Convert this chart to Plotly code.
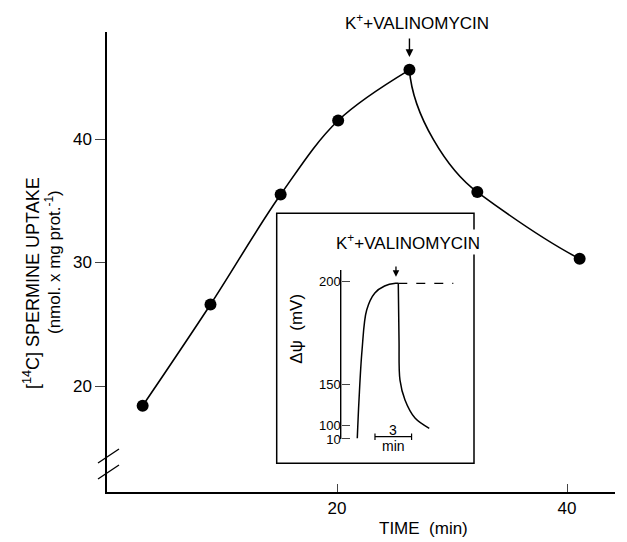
import plotly.graph_objects as go

# ---- main data: [14C] spermine uptake vs time ----
time_min = [3.1, 9.0, 15.1, 20.1, 26.3, 32.2, 41.1]
uptake = [18.4, 26.6, 35.5, 41.5, 45.6, 35.7, 30.3]
x_ticks = [20, 40]
y_ticks = [20, 30, 40]

# ---- inset data: membrane potential trace ----
inset_t = [1.36, 1.5, 1.75, 2.13, 2.8, 3.6, 4.5, 4.72]
inset_mv = [123.6, 142.3, 166.7, 186.2, 194.5, 197.9, 199.2, 199.2]
inset_drop_t = [4.72, 4.78, 4.86, 5.27, 6.09, 7.26]
inset_drop_mv = [199.2, 171.6, 152.0, 142.3, 133.5, 128.5]
inset_dash_t = [4.72, 9.23]
inset_dash_mv = [199.2, 199.2]
inset_tick_pos = [123.3, 130.0, 150, 200]
inset_tick_labels = ["10", "100", "150", "200"]
scale_bar_min = 3

# the page body has an 8px margin: lay the figure out in page pixels minus that offset
OFF = 8
W, H = 627 - OFF, 542 - OFF
PLOT_L, PLOT_R, PLOT_T, PLOT_B = 107, 615, 32, 492   # plot area in page pixels
L, T = PLOT_L - OFF, PLOT_T - OFF
R, B = W - (PLOT_R - OFF), H - (PLOT_B - OFF)
PW, PH = W - L - R, H - T - B
X_PX_PER_UNIT = 11.5
Y_PX_PER_UNIT = 12.35


def px(xp):
    return (xp - PLOT_L) / PW


def py(yp):
    return (PLOT_B - yp) / PH


def yval(yp):
    return 40 + (139 - yp) / Y_PX_PER_UNIT


FONT = "Liberation Sans"
fig = go.Figure()

# rising part of the main curve
fig.add_trace(go.Scatter(x=time_min[:5], y=uptake[:5], mode="lines",
                         line=dict(color="black", width=1.6, shape="spline"),
                         hoverinfo="skip", showlegend=False))
fig.add_trace(go.Scatter(x=time_min, y=uptake, mode="markers",
                         marker=dict(color="black", size=12),
                         showlegend=False))

# inset traces
fig.add_trace(go.Scatter(x=inset_t, y=inset_mv, mode="lines", xaxis="x2", yaxis="y2",
                         line=dict(color="black", width=1.5, shape="spline"),
                         showlegend=False))
fig.add_trace(go.Scatter(x=inset_drop_t, y=inset_drop_mv, mode="lines", xaxis="x2", yaxis="y2",
                         line=dict(color="black", width=1.5, shape="spline"),
                         showlegend=False))
fig.add_trace(go.Scatter(x=inset_dash_t, y=inset_dash_mv, mode="lines", xaxis="x2", yaxis="y2",
                         line=dict(color="black", width=1.3, dash="dash"),
                         showlegend=False))

box_l, box_r, box_t, box_b = 276.7, 474.0, 213.3, 463.3
inset_axis_x = 340.7

fig.update_layout(
    width=W, height=H,
    margin=dict(l=L, r=R, t=T, b=B),
    paper_bgcolor="white", plot_bgcolor="white",
    font=dict(family=FONT, color="black", size=15),
    xaxis=dict(range=[0, PW / X_PX_PER_UNIT], tickvals=x_ticks, ticks="inside", ticklen=8,
               tickwidth=1.3, showline=True, linecolor="black", linewidth=1.5,
               showgrid=False, zeroline=False, tickfont=dict(size=17)),
    yaxis=dict(range=[yval(PLOT_B), yval(PLOT_T)],
               tickvals=y_ticks, ticks="outside", ticklen=10, tickwidth=1.3,
               showline=True, linecolor="black", linewidth=1.5,
               showgrid=False, zeroline=False, tickfont=dict(size=17)),
    xaxis2=dict(domain=[px(box_l), px(box_r)], anchor="y2",
                range=[(box_l - inset_axis_x) / 12.2, (box_r - inset_axis_x) / 12.2],
                visible=False),
    yaxis2=dict(domain=[py(box_b), py(box_t)], anchor="free", position=px(inset_axis_x),
                range=[200 - (box_b - 281.7) / 2.05, 200 + (281.7 - box_t) / 2.05],
                tickvals=inset_tick_pos, ticktext=inset_tick_labels,
                ticks="inside", ticklen=8, tickwidth=1.2, showline=False,
                showgrid=False, zeroline=False, tickfont=dict(size=13)),
)

shapes = []
# falling part of main curve: cubic bezier through peak, 6th and 7th points
x5, x6, x7 = time_min[4], time_min[5], time_min[6]
y5, y6, y7 = uptake[4], uptake[5], uptake[6]
d1x, d1y = x6 - x5, y5 - y6
d2x, d2y = x7 - x6, y6 - y7
c1 = (x5 + 0.05 * d1x, y5 - 0.37 * d1y)
c2 = (x6 - 0.44 * d1x, y6 + 0.18 * d1y)
c4 = (x7 - 0.34 * d2x, y7 + 0.27 * d2y)
path = (f"M {x5},{y5} C {c1[0]},{c1[1]} {c2[0]},{c2[1]} {x6},{y6} "
        f"S {c4[0]},{c4[1]} {x7},{y7}")
shapes.append(dict(type="path", xref="x", yref="y", path=path, layer="below",
                   line=dict(color="black", width=1.6)))
# inset box
shapes.append(dict(type="rect", xref="x2 domain", yref="y2 domain", x0=0, x1=1, y0=0, y1=1,
                   line=dict(color="black", width=1.5)))
# inset y axis line
shapes.append(dict(type="line", xref="x2", yref="y2", x0=0, x1=0, y0=123.3, y1=205.7,
                   line=dict(color="black", width=1.4)))
# scale bar (3 min)
sb_x0, sb_y = 2.81, 124.4
shapes.append(dict(type="line", xref="x2", yref="y2", x0=sb_x0, x1=sb_x0 + scale_bar_min,
                   y0=sb_y, y1=sb_y, line=dict(color="black", width=1.2)))
for xx in (sb_x0, sb_x0 + scale_bar_min):
    shapes.append(dict(type="line", xref="x2", yref="y2", x0=xx, x1=xx,
                       y0=sb_y - 1.6, y1=sb_y + 1.6, line=dict(color="black", width=1.2)))
# axis break marks on main y axis
for (x0p, y0p, x1p, y1p) in [(98, 463, 119, 449), (98, 479, 119, 465)]:
    shapes.append(dict(type="line", xref="paper", yref="paper",
                       x0=px(x0p), y0=py(y0p), x1=px(x1p), y1=py(y1p),
                       line=dict(color="black", width=1.3)))
fig.update_layout(shapes=shapes)

C = dict(xanchor="center", yanchor="middle", showarrow=False)
ann = []
# main annotation
ann.append(dict(x=px(416.7), y=py(21.7), xref="paper", yref="paper",
                text="K<sup>+</sup>+VALINOMYCIN", font=dict(size=17), **C))
ann.append(dict(x=x5, y=yval(57), ax=x5, ay=yval(37), xref="x", yref="y",
                axref="x", ayref="y", text="", showarrow=True, arrowhead=2,
                arrowsize=1.1, arrowwidth=1.4, arrowcolor="black"))
# inset annotation (drawn over the box border, as in the original)
ann.append(dict(x=5.49, y=219.5, xref="x2", yref="y2", text="K<sup>+</sup>+VALINOMYCIN",
                bgcolor="white", font=dict(size=17), **C))
ann.append(dict(x=4.53, y=202.4, ax=4.53, ay=208.1, xref="x2", yref="y2",
                axref="x2", ayref="y2", text="", showarrow=True, arrowhead=2,
                arrowsize=1.0, arrowwidth=1.3, arrowcolor="black"))
# inset y title
ann.append(dict(x=px(296.7), y=py(329), xref="paper", yref="paper", text="Δψ  (mV)",
                textangle=-90, font=dict(size=17), **C))
# scale bar labels
ann.append(dict(x=sb_x0 + scale_bar_min / 2, y=sb_y + 3.2, xref="x2", yref="y2", text="3",
                font=dict(size=14), **C))
ann.append(dict(x=sb_x0 + scale_bar_min / 2, y=sb_y - 4.6, xref="x2", yref="y2", text="min",
                font=dict(size=14), **C))
# main y title (two lines)
ann.append(dict(x=px(31), y=py(283), xref="paper", yref="paper",
                text="[<sup>14</sup>C] SPERMINE UPTAKE", textangle=-90,
                font=dict(size=18), **C))
ann.append(dict(x=px(53), y=py(262), xref="paper", yref="paper",
                text="(nmol. x mg prot.<sup>-1</sup>)", textangle=-90,
                font=dict(size=17), **C))
# x title
ann.append(dict(x=px(423), y=py(528), xref="paper", yref="paper", text="TIME  (min)",
                font=dict(size=17), **C))
fig.update_layout(annotations=ann)

fig.write_html("out.html")
